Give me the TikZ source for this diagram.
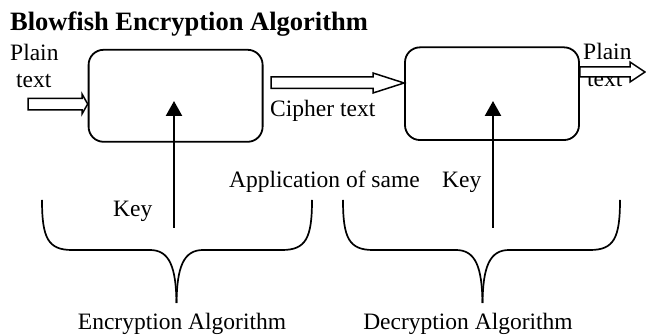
\documentclass[tikz,border=0pt]{standalone}
\usepackage{fontspec}
\setmainfont{Liberation Serif}
\usetikzlibrary{arrows.meta}
\tikzset{
  lbl/.style={anchor=base west, inner sep=0pt, font=\fontsize{23.5}{26}\selectfont},
  ttl/.style={anchor=base west, inner sep=0pt, font=\fontsize{26.5}{29}\selectfont\bfseries},
  algbox/.style={draw, line width=1.8pt, rounded corners=15pt, minimum width=174pt, minimum height=92pt, inner sep=0pt},
  blockarrow/.style={draw, fill=white, line width=1.5pt, line join=miter},
  keyarrow/.style={line width=2.4pt, -{Triangle[length=15pt,width=16pt]}},
  brace/.style={line width=1.7pt}
}
\begin{document}
\begin{tikzpicture}[x=1pt,y=-1pt]
\useasboundingbox (0,0) rectangle (646,336);
% title
\node[ttl] (title) at (10,30.5) {Blowfish Encryption Algorithm};
% boxes
\node[algbox] (enc) at (175.6,95.8) {};
\node[algbox, minimum height=92.7pt] (dec) at (492,93.7) {};
% labels
\node[lbl] (pt1a) at (10,61) {Plain};
\node[lbl] (pt1b) at (16,88) {text};
\node[lbl] (ct) at (270,117) {Cipher text};
\node[lbl] (pt2a) at (583,60) {Plain};
\node[lbl] (pt2b) at (587,87) {text};
\node[lbl] (app) at (229,188) {Application of same};
\node[lbl] (key2) at (442,188) {Key};
\node[lbl] (key1) at (113,217) {Key};
\node[lbl, anchor=base] (encalg) at (182,330) {Encryption Algorithm};
\node[lbl, anchor=base] (decalg) at (468,330) {Decryption Algorithm};
% block arrows
\coordinate (inTip) at (enc.west |- 0,104);
\draw[blockarrow] (28,98.5) -- (82,98.5) -- (82,94) -- (inTip) -- (82,114) -- (82,110) -- (28,110) -- cycle;
\draw[blockarrow] (271,77) -- (373,77) -- (373,73) -- (dec.west |- 0,83) -- (373,93) -- (373,88.5) -- (271,88.5) -- cycle;
\draw[blockarrow] (dec.east |- 0,67) -- (630,67) -- (630,62) -- (645,72) -- (630,82) -- (630,77) -- (dec.east |- 0,77) -- cycle;
% key arrows
\coordinate (k1) at (174,228);
\coordinate (k2) at (493,228);
\draw[keyarrow] (k1) -- (174,101);
\draw[keyarrow] (k2) -- (493,101);
% braces
\draw[brace] (42,200) .. controls (42,238) and (48,250) .. (72,250) -- (150,250) .. controls (170,250) and (176,268) .. (176.5,303);
\draw[brace] (312,200) .. controls (312,238) and (306,250) .. (282,250) -- (203,250) .. controls (183,250) and (177,268) .. (176.5,303);
\draw[brace] (343,200) .. controls (343,238) and (349,250) .. (373,250) -- (456,250) .. controls (476,250) and (482,268) .. (482.5,303);
\draw[brace] (620,200) .. controls (620,238) and (614,250) .. (590,250) -- (509,250) .. controls (489,250) and (483,268) .. (482.5,303);
\end{tikzpicture}
\end{document}
